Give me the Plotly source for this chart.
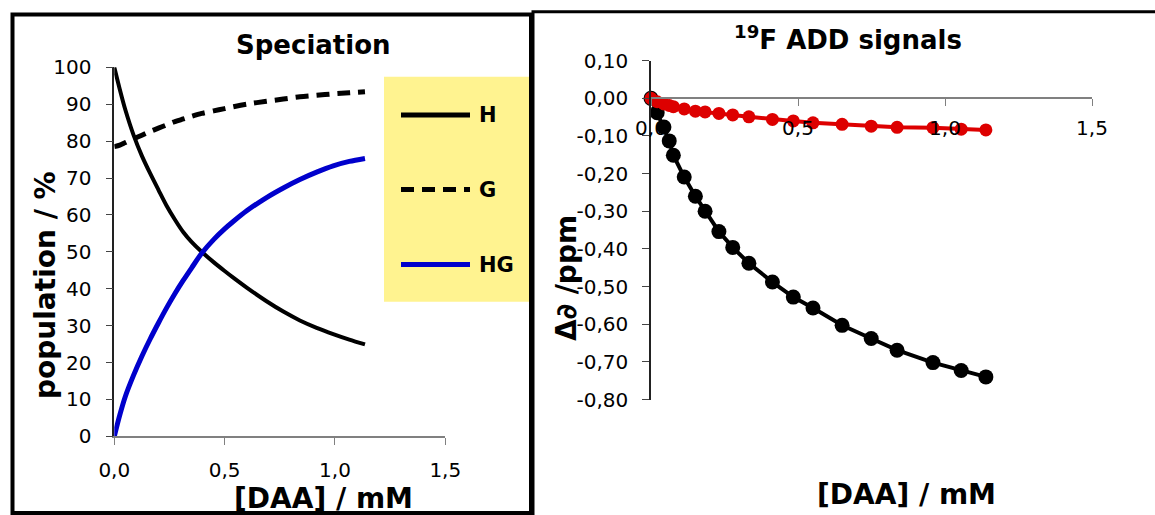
import plotly.graph_objects as go

# ---------------- data ----------------
# Speciation panel
daa_spec = [0, 0.025, 0.05, 0.087, 0.125, 0.162, 0.2, 0.237, 0.275, 0.313, 0.35, 0.396,
            0.45, 0.5, 0.539, 0.6, 0.69, 0.766, 0.841, 0.917, 0.992, 1.065, 1.136]
pop_H = [100, 94.0, 88.5, 81.7, 76.0, 71.3, 66.8, 62.5, 58.7, 55.3, 52.7, 50.0,
         47.2, 44.8, 43.0, 40.3, 36.6, 33.8, 31.4, 29.4, 27.7, 26.2, 24.9]
pop_G = [78.5, 78.9, 79.6, 80.6, 81.6, 82.6, 83.5, 84.4, 85.3, 86.0, 86.7, 87.5,
         88.2, 88.8, 89.3, 90.0, 90.8, 91.4, 92.0, 92.4, 92.8, 93.1, 93.4]
pop_HG = [0, 5.8, 10.8, 16.5, 21.7, 26.3, 30.7, 34.8, 38.7, 42.3, 45.6, 49.6,
          53.3, 56.2, 58.2, 61.1, 64.7, 67.3, 69.6, 71.6, 73.3, 74.5, 75.3]

# 19F ADD signals panel
daa_nmr = [0, 0.021, 0.044, 0.062, 0.076, 0.113, 0.151, 0.184, 0.231, 0.278,
           0.333, 0.413, 0.484, 0.551, 0.650, 0.749, 0.837, 0.959, 1.055, 1.139]
shift_black = [0.000, -0.038, -0.076, -0.113, -0.151, -0.209, -0.260, -0.300, -0.354, -0.396,
               -0.438, -0.488, -0.528, -0.557, -0.603, -0.638, -0.669, -0.702, -0.723, -0.740]
shift_red = [0.000, -0.009, -0.015, -0.019, -0.022, -0.028, -0.034, -0.036, -0.040, -0.044,
             -0.049, -0.056, -0.060, -0.065, -0.069, -0.074, -0.077, -0.078, -0.082, -0.084]

x_ticks = [0, 0.5, 1.0, 1.5]
x_ticklabels = ["0,0", "0,5", "1,0", "1,5"]
pop_ticks = [0, 10, 20, 30, 40, 50, 60, 70, 80, 90, 100]
pop_ticklabels = ["0", "10", "20", "30", "40", "50", "60", "70", "80", "90", "100"]
shift_ticks = [0.1, 0.0, -0.1, -0.2, -0.3, -0.4, -0.5, -0.6, -0.7, -0.8]
shift_ticklabels = ["0,10", "0,00", "-0,10", "-0,20", "-0,30", "-0,40", "-0,50", "-0,60", "-0,70", "-0,80"]

legend_names = ["H", "G", "HG"]

# ---------------- layout helpers ----------------
W, H = 1155, 515
FONT = "DejaVu Sans"


def px(x):
    return x / W


def py(y):
    return 1 - y / H


BLUE = "#0000CC"
RED = "#DD0000"

fig = go.Figure()

# Speciation traces
fig.add_trace(go.Scatter(x=daa_spec, y=pop_H, mode="lines", name="H",
                         line=dict(color="black", width=4, shape="spline", smoothing=0.8),
                         xaxis="x", yaxis="y"))
fig.add_trace(go.Scatter(x=daa_spec, y=pop_G, mode="lines", name="G",
                         line=dict(color="black", width=5, dash="13px,8px", shape="spline", smoothing=0.8),
                         xaxis="x", yaxis="y"))
fig.add_trace(go.Scatter(x=daa_spec, y=pop_HG, mode="lines", name="HG",
                         line=dict(color=BLUE, width=5, shape="spline", smoothing=0.8),
                         xaxis="x", yaxis="y"))

# NMR traces
fig.add_trace(go.Scatter(x=daa_nmr, y=shift_black, mode="lines+markers", name="signal 1",
                         line=dict(color="black", width=4),
                         marker=dict(color="black", size=15), cliponaxis=False,
                         xaxis="x2", yaxis="y2"))
fig.add_trace(go.Scatter(x=daa_nmr, y=shift_red, mode="lines+markers", name="signal 2",
                         line=dict(color=RED, width=4),
                         marker=dict(color=RED, size=13), cliponaxis=False,
                         xaxis="x2", yaxis="y2"))

tickfont = dict(family=FONT, size=20, color="black")

axis_common = dict(showgrid=False, zeroline=False, showline=True, ticks="outside",
                   ticklen=7, tickfont=tickfont, fixedrange=True, automargin=False)

fig.update_layout(
    width=W, height=H,
    margin=dict(l=0, r=0, t=0, b=0, pad=0, autoexpand=False),
    paper_bgcolor="white", plot_bgcolor="rgba(0,0,0,0)",
    showlegend=False,
    xaxis=dict(domain=[px(114.3), px(445.3)], range=[0, 1.5], anchor="y",
               tickvals=x_ticks, ticktext=x_ticklabels, linecolor="#808080", tickcolor="#808080",
               linewidth=1.5, ticklabelstandoff=8, **axis_common),
    yaxis=dict(domain=[py(436.3), py(67.3)], range=[0, 100], anchor="x",
               tickvals=pop_ticks, ticktext=pop_ticklabels, linecolor="#222222", tickcolor="#444444",
               linewidth=1.5, ticklabelstandoff=10, **axis_common),
    xaxis2=dict(domain=[px(651), px(1092)], range=[0, 1.5], anchor="free", position=py(98.3),
                tickvals=x_ticks, ticktext=x_ticklabels, linecolor="#808080", tickcolor="#808080",
                linewidth=1.5, ticklabelstandoff=5, **axis_common),
    yaxis2=dict(domain=[py(399.5), py(60.7)], range=[-0.8, 0.1], anchor="x2",
                tickvals=shift_ticks, ticktext=shift_ticklabels, linecolor="#222222", tickcolor="#444444",
                linewidth=1.5, ticklabelstandoff=10, **axis_common),
)

title_font = dict(family=FONT, size=26, color="black", weight="bold")
axis_title_font = dict(family=FONT, size=28, color="black", weight="bold")
ann = []
ann.append(dict(text="Speciation", x=px(313), y=py(45), xref="paper", yref="paper",
                showarrow=False, font=title_font, xanchor="center", yanchor="middle"))
ann.append(dict(text="<sup>19</sup>F ADD signals", x=px(848), y=py(38), xref="paper", yref="paper",
                showarrow=False, font=title_font, xanchor="center", yanchor="middle"))
ann.append(dict(text="population / %", x=px(45), y=py(285), xref="paper", yref="paper",
                showarrow=False, font=axis_title_font, textangle=-90, xanchor="center", yanchor="middle"))
ann.append(dict(text="[DAA] / mM", x=px(323), y=py(498), xref="paper", yref="paper",
                showarrow=False, font=axis_title_font, xanchor="center", yanchor="middle"))
ann.append(dict(text="Δ∂ /ppm", x=px(566), y=py(278), xref="paper", yref="paper",
                showarrow=False, font=axis_title_font, textangle=-90, xanchor="center", yanchor="middle"))
ann.append(dict(text="[DAA] / mM", x=px(906), y=py(494), xref="paper", yref="paper",
                showarrow=False, font=axis_title_font, xanchor="center", yanchor="middle"))

# legend labels
legend_y = [115, 189.5, 264.5]
legend_font = dict(family=FONT, size=21, color="black", weight="bold")
for name, ly in zip(legend_names, legend_y):
    ann.append(dict(text=name, x=px(477), y=py(ly), xref="paper", yref="paper",
                    showarrow=False, font=legend_font, xanchor="left", yanchor="middle"))
fig.update_layout(annotations=ann)

shapes = []
# legend box
shapes.append(dict(type="rect", xref="paper", yref="paper", x0=px(384), x1=px(529),
                   y0=py(301.7), y1=py(76.7), fillcolor="#FFF390", line=dict(width=0), layer="below"))
legend_styles = [dict(color="black", width=5), dict(color="black", width=5, dash="13px,8px"),
                 dict(color=BLUE, width=5)]
for st, ly in zip(legend_styles, legend_y):
    shapes.append(dict(type="line", xref="paper", yref="paper", x0=px(401), x1=px(470),
                       y0=py(ly), y1=py(ly), line=st))
# panel borders
shapes.append(dict(type="rect", xref="paper", yref="paper", x0=px(12.5), x1=px(531),
                   y0=py(513), y1=py(14.5), line=dict(color="black", width=4)))
shapes.append(dict(type="rect", xref="paper", yref="paper", x0=px(533), x1=px(1165),
                   y0=py(525), y1=py(11.7), line=dict(color="black", width=3)))
fig.update_layout(shapes=shapes)

fig.write_html("out.html", config={"displayModeBar": False},
               post_script="document.body.style.margin='0';document.body.style.overflow='hidden';")
